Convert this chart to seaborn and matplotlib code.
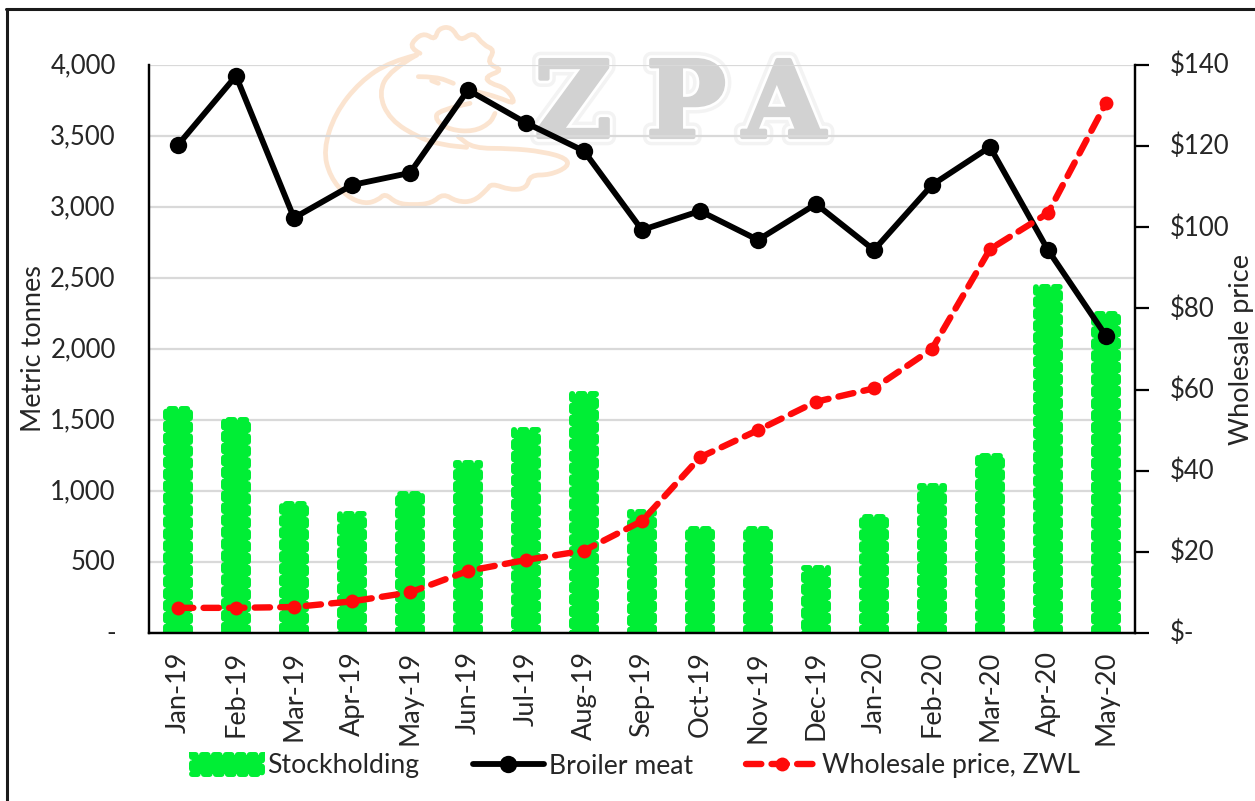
#!/usr/bin/env python3
"""Stockholding, broiler meat output and wholesale price, Jan-19 to May-20."""

import matplotlib

matplotlib.use("Agg")

import matplotlib.patheffects as pe
import matplotlib.pyplot as plt
import pandas as pd
import seaborn as sns
from matplotlib.lines import Line2D
from matplotlib.patches import Patch, PathPatch
from matplotlib.path import Path
from matplotlib.ticker import FuncFormatter
from matplotlib.transforms import ScaledTranslation

MONTHS = [
    "Jan-19", "Feb-19", "Mar-19", "Apr-19", "May-19", "Jun-19", "Jul-19", "Aug-19", "Sep-19",
    "Oct-19", "Nov-19", "Dec-19", "Jan-20", "Feb-20", "Mar-20", "Apr-20", "May-20",
]
STOCKHOLDING = [1575, 1500, 910, 840, 980, 1200, 1430, 1680, 850, 730, 735, 455, 820, 1035, 1250, 2440, 2250]
BROILER = [3437, 3923, 2923, 3155, 3240, 3824, 3592, 3394, 2838, 2972, 2768, 3021, 2697, 3155, 3423, 2697, 2092]
PRICE = [6.2, 6.2, 6.4, 7.8, 10.0, 15.3, 18.0, 20.3, 27.6, 43.3, 50.0, 57.0, 60.3, 70.0, 94.6, 103.5, 130.6]

GREEN = "#00ee35"
RED = "#ff0a0a"
TEXT = "#262626"
GRID = "#d9d9d9"
PEACH = "#fbe4d0"
BAR_DASH = (0, (0.95, 1.05))

# watermark outlines, measured on a 3x crop that starts at pixel (310, 20)
CHICKEN = [
    [(320, 105), (240, 125), (150, 185), (75, 280), (40, 390), (60, 470), (110, 530), (165, 552), (205, 540),
     (225, 520), (260, 550), (310, 555), (365, 550), (400, 520), (440, 545), (490, 545), (530, 510), (545, 490),
     (600, 510), (650, 505), (660, 465), (720, 465), (775, 440), (770, 415), (700, 395), (600, 385), (490, 385),
     (445, 350)],
    [(320, 105), (240, 150), (205, 220), (240, 300), (330, 355), (400, 375), (470, 382)],
    [(330, 100), (300, 85), (315, 55), (345, 40), (375, 60), (385, 25), (425, 20), (450, 65), (490, 35),
     (520, 75), (555, 90), (530, 130), (580, 150), (525, 170), (540, 190), (590, 205), (620, 255), (560, 230),
     (500, 215)],
    [(325, 170), (380, 170), (430, 190)],
    [(365, 182), (385, 190)],
    [(480, 250), (385, 270), (375, 300), (420, 330), (490, 335), (540, 310), (555, 280)],
]


def smooth_path(points: list) -> Path:
    # quadratic segments through the midpoints, outlines only
    verts = [points[0]]
    codes = [Path.MOVETO]
    for cur, nxt in zip(points[1:-1], points[2:]):
        verts += [cur, ((cur[0] + nxt[0]) / 2, (cur[1] + nxt[1]) / 2)]
        codes += [Path.CURVE3, Path.CURVE3]
    verts.append(points[-1])
    codes.append(Path.LINETO)
    return Path(verts, codes)


def draw_watermark(fig) -> None:
    w, h = fig.get_size_inches() * fig.dpi
    for outline in CHICKEN:
        pts = [((310 + x / 3) / w, 1 - (20 + y / 3) / h) for x, y in outline]
        patch = PathPatch(smooth_path(pts), fill=False, edgecolor=PEACH, linewidth=3.4,
                          capstyle="round", transform=fig.transFigure, zorder=-1)
        fig.add_artist(patch)
    halo = [
        pe.withStroke(linewidth=12, foreground="#f3f3f3"),
        pe.withStroke(linewidth=7, foreground="white"),
        pe.withStroke(linewidth=3, foreground="#d2d2d2"),
        pe.Normal(),
    ]
    for letter, x in (("Z", 573), ("P", 686), ("A", 784)):
        fig.text(x / w, 1 - 137 / h, letter, family="DejaVu Serif", weight="bold", fontsize=76,
                 color="#d2d2d2", ha="center", va="baseline", zorder=-1, path_effects=halo)


def main() -> None:
    sns.set_theme(style="white")
    plt.rcParams["font.family"] = ["Lato", "DejaVu Sans"]
    plt.rcParams["axes.unicode_minus"] = False

    df = pd.DataFrame({"Month": MONTHS, "Stockholding": STOCKHOLDING, "Broiler": BROILER, "Price": PRICE})

    fig = plt.figure(figsize=(12.55, 8.01), dpi=100)
    w, h = 1255, 801
    ax = fig.add_axes([149 / w, 1 - 633 / h, 986 / w, 568 / h])
    ax.patch.set_visible(False)

    sns.barplot(data=df, x="Month", y="Stockholding", color=GREEN, saturation=1, width=0.4,
                linewidth=4.3, edgecolor=GREEN, ax=ax)
    for bar in ax.patches:
        bar.set_linestyle(BAR_DASH)
        bar.set_capstyle("round")
        bar.set_joinstyle("round")

    sns.lineplot(data=df, x="Month", y="Broiler", color="black", linewidth=4.2, marker="o",
                 markersize=12.5, markeredgewidth=0, sort=False, errorbar=None, ax=ax)

    ax.set_ylim(0, 4000)
    ax.set_xlim(-0.5, 16.5)
    ax.set_yticks(range(0, 4001, 500))
    ax.yaxis.set_major_formatter(FuncFormatter(lambda v, _: f"{v:,.0f}" if v else "-"))
    ax.grid(axis="y", color=GRID, linewidth=1.6)
    ax.set_axisbelow(True)
    ax.set_xlabel("")
    ax.set_ylabel("Metric tonnes", fontsize=19.5, color=TEXT, labelpad=3)
    ax.tick_params(axis="y", length=0, labelsize=18.5, labelcolor=TEXT, pad=24)
    ax.tick_params(axis="x", length=0, labelsize=19.5, labelcolor=TEXT, pad=13, rotation=90)

    ax2 = ax.twinx()
    sns.lineplot(data=df, x="Month", y="Price", color=RED, linewidth=4.6, marker="o", markersize=10,
                 markeredgewidth=0, linestyle=(0, (2.4, 1.6)), dash_capstyle="round", sort=False,
                 errorbar=None, ax=ax2)
    ax2.set_ylim(0, 140)
    ax2.set_yticks(range(0, 141, 20))
    ax2.yaxis.set_major_formatter(FuncFormatter(lambda v, _: f"${v:.0f}" if v else "$-"))
    ax2.set_ylabel("Wholesale price", fontsize=19.5, color=TEXT, labelpad=0)
    ax2.tick_params(axis="y", length=10, width=1.6, color="black", labelsize=18.5, labelcolor=TEXT, pad=15)
    ax2.grid(False)

    # nudge the value labels up, Lato sits a little low against its tick
    nudge = ScaledTranslation(0, 2 / 100, fig.dpi_scale_trans)
    for axis in (ax, ax2):
        for side, spine in axis.spines.items():
            spine.set_visible(side != "top")
            spine.set_color("black")
            spine.set_linewidth(1.6)
        for label in axis.get_yticklabels():
            label.set_transform(label.get_transform() + nudge)

    handles = [
        Patch(facecolor=GREEN, edgecolor=GREEN),
        Line2D([], [], color="black", linewidth=4.2, marker="o", markersize=12.5, markeredgewidth=0,
               solid_capstyle="round"),
        Line2D([], [], color=RED, linewidth=4.6, marker="o", markersize=10, markeredgewidth=0,
               linestyle=(0, (2.4, 1.6)), dash_capstyle="round"),
    ]
    legend = fig.legend(handles, ["Stockholding", "Broiler meat", "Wholesale price, ZWL"], loc="center",
                        bbox_to_anchor=(636 / w, 1 - 766 / h), ncol=3, frameon=False, fontsize=19.2,
                        labelcolor=TEXT, handlelength=2.65, handletextpad=0.2, columnspacing=2.0)
    for patch in legend.get_patches():
        patch.set_linewidth(4.3)
        patch.set_linestyle(BAR_DASH)
        patch.set_capstyle("round")

    draw_watermark(fig)

    # frame of the pasted chart, only top and left fall inside the picture
    fig.add_artist(Line2D([7 / w, 7 / w], [0, 1 - 9 / h], color="#1a1a1a", linewidth=2.2,
                          transform=fig.transFigure))
    fig.add_artist(Line2D([6 / w, 1], [1 - 9 / h, 1 - 9 / h], color="#1a1a1a", linewidth=2.2,
                          transform=fig.transFigure))

    fig.savefig("out.png", dpi=100)
    plt.close(fig)


if __name__ == "__main__":
    main()
